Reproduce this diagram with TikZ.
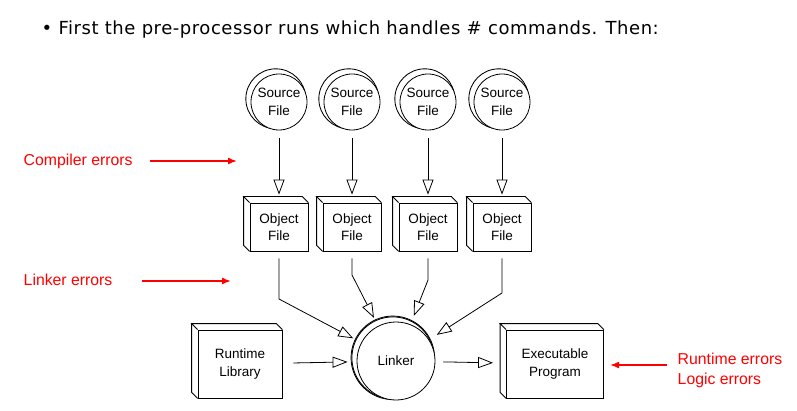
\documentclass[tikz,border=0pt]{standalone}
\usepackage{fontspec}
\setmainfont{Liberation Sans}
\newfontfamily\introfont[LetterSpace=3]{DejaVu Sans}
\usetikzlibrary{arrows.meta,shadows}

% depth edges of a solid box, drawn up and to the left of its front face
\newcommand\boxdepth[1]{%
  \draw (#1.north west) -- ++(-6,-6) -- ([shift={(-6,-6)}]#1.north east) -- (#1.north east);
  \draw ([shift={(-6,-6)}]#1.north west) -- ([shift={(-6,-6)}]#1.south west) -- (#1.south west);}

\begin{document}
\begin{tikzpicture}[x=1pt,y=-1pt,line width=0.8pt,
  label font/.style={font=\fontsize{13.5}{17.5}\selectfont},
  srccircle/.style={circle,draw,fill=white,minimum size=56pt,inner sep=0pt,align=center,label font,
    copy shadow={shadow xshift=-3pt,shadow yshift=3pt,shadow scale=1.07,draw=black,fill=white,line width=0.8pt}},
  linkcircle/.style={srccircle,minimum size=78pt,
    copy shadow={shadow xshift=-3pt,shadow yshift=3pt,shadow scale=1.05,draw=black,fill=white,line width=0.8pt}},
  objbox/.style={draw,fill=white,minimum width=58pt,minimum height=48pt,inner sep=0pt,align=center,label font},
  flow/.style={-{Triangle[open,length=15pt,width=11pt]},shorten <=7pt,shorten >=9pt},
  err/.style={red,line width=1.6pt,-{Latex[length=9pt,width=7pt]}},
  errlabel/.style={red,anchor=west,align=left,font=\fontsize{15.8}{20}\selectfont}]
\useasboundingbox (0,0) rectangle (797,411);

\node[anchor=west,font=\introfont\fontsize{18}{20}\selectfont] (intro) at (38,30)
  {\textbullet\ First the pre-processor runs which handles \# commands. Then:};

% source files
\node[srccircle] (s1) at (279,102) {Source\\File};
\node[srccircle] (s2) at (352,102) {Source\\File};
\node[srccircle] (s3) at (428,102) {Source\\File};
\node[srccircle] (s4) at (502,102) {Source\\File};

% object files
\node[objbox] (o1) at (279,227) {Object\\File};
\node[objbox] (o2) at (352,227) {Object\\File};
\node[objbox] (o3) at (428,227) {Object\\File};
\node[objbox] (o4) at (502,227) {Object\\File};
\boxdepth{o1} \boxdepth{o2} \boxdepth{o3} \boxdepth{o4}

% link step
\node[linkcircle] (lk) at (396,361) {Linker};
\node[objbox,minimum width=84pt,minimum height=68pt] (rt) at (240,364) {Runtime\\Library};
\node[objbox,minimum width=97pt,minimum height=68pt] (ex) at (555,364) {Executable\\Program};
\boxdepth{rt} \boxdepth{ex}

\draw [flow,shorten <=8pt,shorten >=8pt] (s1) -- (o1);
\draw [flow,shorten <=8pt,shorten >=8pt] (s2) -- (o2);
\draw [flow,shorten <=8pt,shorten >=8pt] (s3) -- (o3);
\draw [flow,shorten <=8pt,shorten >=8pt] (s4) -- (o4);

\coordinate (b1) at (279,299);
\coordinate (b2) at (352,275);
\coordinate (b3) at (428,280);
\coordinate (b4) at (502,293);
\draw [flow] (o1) -- (b1) -- (lk);
\draw [flow] (o2) -- (b2) -- (lk);
\draw [flow] (o3) -- (b3) -- (lk);
\draw [flow] (o4) -- (b4) -- (lk);
\draw [flow,shorten <=11pt] (rt) -- (lk);
\draw [flow,shorten <=8pt,shorten >=13pt] (lk) -- (ex);

% error annotations
\node[errlabel] (ce) at (20,161) {Compiler errors};
\node[errlabel] (le) at (20,280) {Linker errors};
\node[errlabel] (re) at (674,370) {Runtime errors\\Logic errors};
\coordinate (cetip) at (237,161);
\coordinate (letip) at (231,281);
\coordinate (retip) at (610,365);
\draw [err,shorten <=14pt] (ce) -- (cetip);
\draw [err,shorten <=26pt] (le.east |- letip) -- (letip);
\draw [err,shorten <=7pt] (re.west |- retip) -- (retip);
\end{tikzpicture}
\end{document}
